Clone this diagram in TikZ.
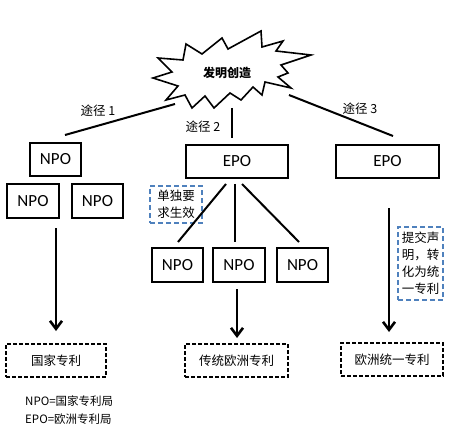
\documentclass[tikz,border=0pt]{standalone}
\usepackage{fontspec}
\setmainfont{Carlito}
\newfontfamily\cjk{Noto Sans CJK SC}
\usetikzlibrary{arrows.meta}
\definecolor{dashblue}{RGB}{79,129,189}
\tikzset{
  solidbox/.style={draw=black, line width=1.5pt, minimum height=33pt, inner sep=0pt, font=\fontsize{17}{18}\selectfont},
  bluebox/.style={draw=dashblue, line width=1.8pt, dash pattern=on 5pt off 3pt, inner sep=0pt, align=center, font=\cjk\fontsize{12.5}{17}\selectfont},
  resultbox/.style={draw=black, line width=1.5pt, dash pattern=on 4pt off 2pt, minimum height=33pt, inner sep=0pt, font=\cjk\fontsize{12.5}{14}\selectfont},
  pathlabel/.style={font=\cjk\fontsize{12.5}{14}\selectfont, inner sep=0pt},
  conn/.style={line width=2pt},
  bigarrow/.style={line width=2.6pt, -{Straight Barb[length=8pt,width=12pt,line width=2.6pt]}},
  legend/.style={font=\cjk\fontsize{11.5}{13}\selectfont, inner sep=0pt, anchor=west}
}
\begin{document}
\begin{tikzpicture}[x=1pt,y=-1pt]
\useasboundingbox (0,0) rectangle (454,430);
% starburst
\draw[line width=1.6pt, line join=miter, fill=white]
 (222,38) -- (228,49) -- (261,31) -- (262,47) -- (283,41) -- (276,51) -- (311,55) -- (281,65) -- (288,73) -- (278,77) -- (291,88) -- (265,82) -- (262,95) -- (253,87) -- (241,100) -- (230,93) -- (214,108) -- (205,96) -- (192,108) -- (185,95) -- (166,100) -- (178,86) -- (153,78) -- (172,72) -- (158,58) -- (183,60) -- (186,44) -- (202,54) -- cycle;
\node[font=\cjk\bfseries\fontsize{12}{14}\selectfont, inner sep=0pt] (inv) at (227,73) {发明创造};

% route 1
\node[solidbox, minimum width=51pt] (npoA) at (55.5,159.5) {NPO};
\node[solidbox, minimum width=52pt, minimum height=34pt] (npoB) at (33,201) {NPO};
\node[solidbox, minimum width=51pt, minimum height=34pt] (npoC) at (97.5,201) {NPO};
% route 2
\node[solidbox, minimum width=102pt] (epoM) at (237,161.5) {EPO};
\node[solidbox, minimum width=51pt, minimum height=34pt] (npoD) at (177.5,265) {NPO};
\node[solidbox, minimum width=52pt, minimum height=34pt] (npoE) at (239,265) {NPO};
\node[solidbox, minimum width=51pt, minimum height=34pt] (npoF) at (302.5,265) {NPO};
\node[bluebox, minimum width=52pt, minimum height=37pt] (sep) at (176,204.5) {单独要\\求生效};
% route 3
\node[solidbox, minimum width=103pt] (epoR) at (387.5,161.5) {EPO};
\node[bluebox, minimum width=45pt, minimum height=73pt] (conv) at (420.5,263.5) {提交声\\明，转\\化为统\\一专利};

% results
\node[resultbox, minimum width=100pt] (resA) at (56,360.5) {国家专利};
\node[resultbox, minimum width=103pt] (resB) at (236.5,360.5) {传统欧洲专利};
\node[resultbox, minimum width=102pt] (resC) at (392,359.5) {欧洲统一专利};

% route lines
\coordinate (r1a) at (175,104);
\coordinate (r1b) at (65,135);
\coordinate (r2a) at (232,108);
\coordinate (r2b) at (232,138);
\coordinate (r3a) at (289,95);
\coordinate (r3b) at (393,136);
\draw[conn] (r1a) -- (r1b);
\draw[conn] (r2a) -- (r2b);
\draw[conn] (r3a) -- (r3b);
\node[pathlabel] (l1) at (98,111) {途径 1};
\node[pathlabel] (l2) at (203,127) {途径 2};
\node[pathlabel] (l3) at (360,109) {途径 3};

% EPO branches
\coordinate (b1) at (226,184);
\coordinate (b2) at (235,184);
\coordinate (b3) at (242,184);
\coordinate (e1) at (178,242);
\coordinate (e2) at (235,242);
\coordinate (e3) at (299,242);
\draw[conn] (b1) -- (e1);
\draw[conn] (b2) -- (e2);
\draw[conn] (b3) -- (e3);

% arrows
\coordinate (a1s) at (56,228);
\coordinate (a1e) at (56,331);
\coordinate (a2s) at (237,289);
\coordinate (a2e) at (237,338);
\coordinate (a3s) at (389,208);
\coordinate (a3e) at (389,332);
\draw[bigarrow] (a1s) -- (a1e);
\draw[bigarrow] (a2s) -- (a2e);
\draw[bigarrow] (a3s) -- (a3e);

% legend
\node[legend] (lg1) at (25,401) {NPO=国家专利局};
\node[legend] (lg2) at (25,419) {EPO=欧洲专利局};
\end{tikzpicture}
\end{document}
